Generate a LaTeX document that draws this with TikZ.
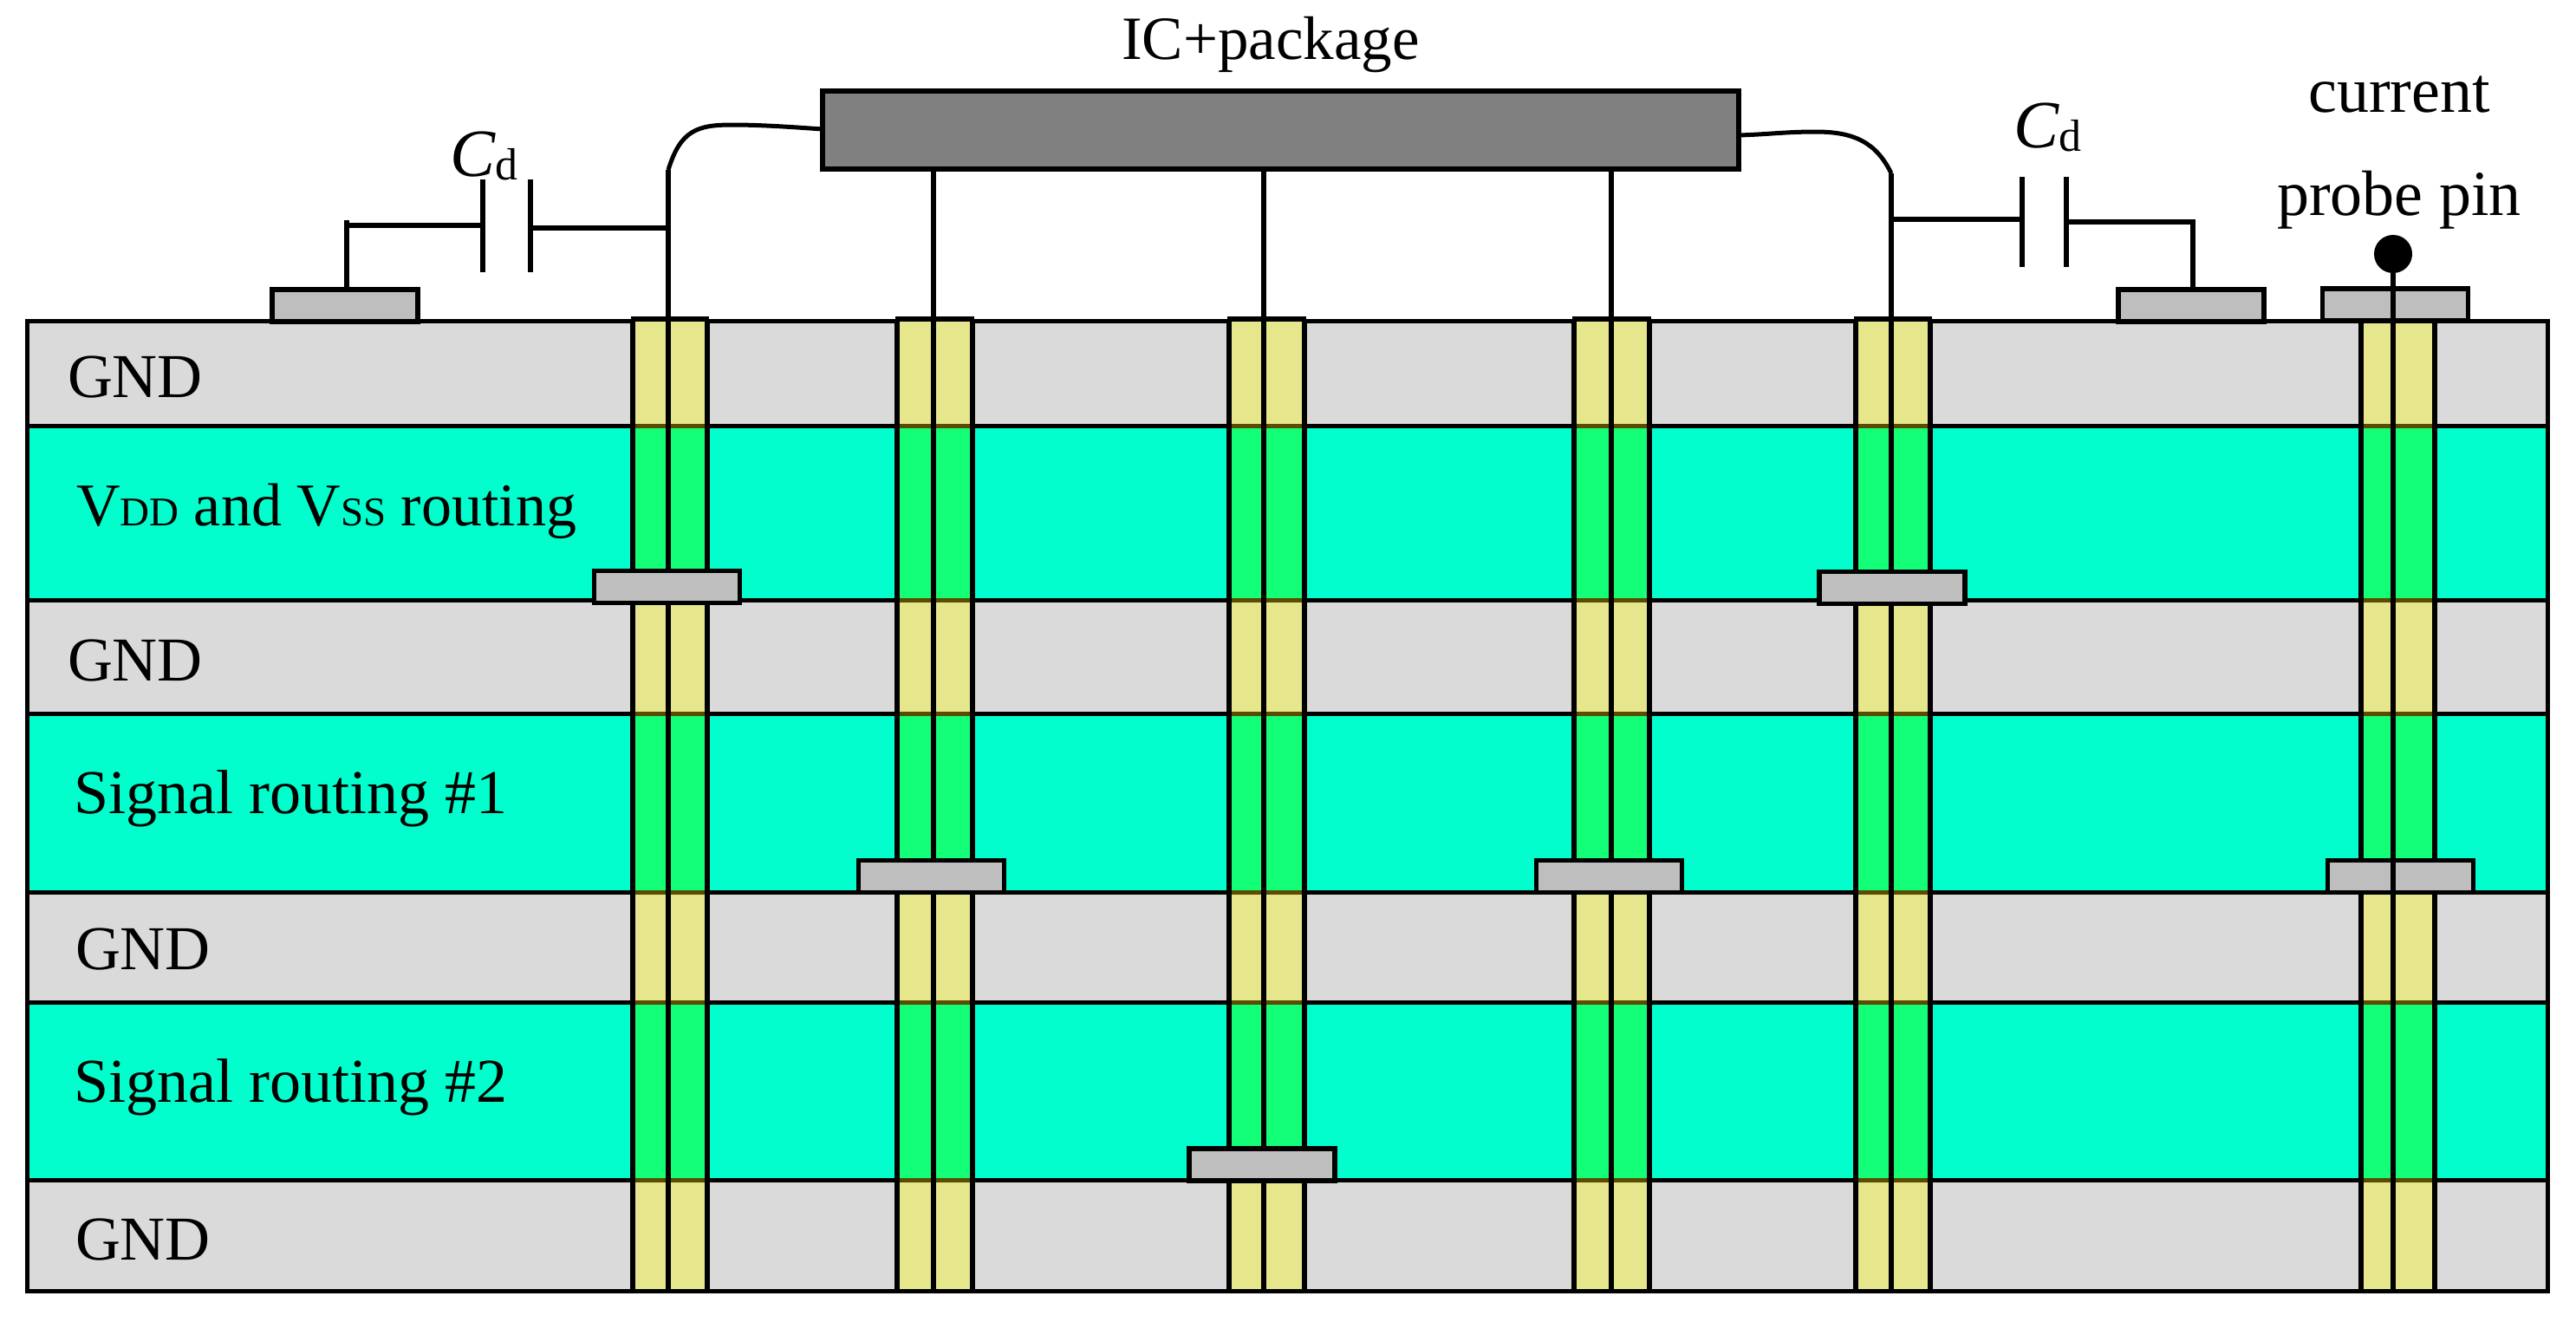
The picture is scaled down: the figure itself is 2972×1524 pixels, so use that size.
\documentclass[tikz,border=0pt]{standalone}
\usepackage{fontspec}
\setmainfont{Liberation Serif}
\definecolor{laygray}{HTML}{DADADA}
\definecolor{layteal}{HTML}{00FFCC}
\definecolor{viayel}{HTML}{E6E68C}
\definecolor{viagrn}{HTML}{14FF78}
\definecolor{padgray}{HTML}{BEBEBE}
\definecolor{icgray}{HTML}{808080}
\definecolor{olive}{HTML}{5A4C00}
\tikzset{
  x=1pt,y=-1pt,
  wire/.style={line width=6pt,black},
  layerbox/.style={draw=black,line width=5pt,minimum width=2908pt,inner sep=0pt,outer sep=0pt,anchor=north west},
  gndlayer/.style={layerbox,fill=laygray},
  routelayer/.style={layerbox,fill=layteal},
  padbox/.style={draw=black,line width=5.5pt,fill=padgray,minimum width=168pt,minimum height=37pt,inner sep=0pt,outer sep=0pt},
  lab/.style={anchor=base west,inner sep=0pt,outer sep=0pt,font=\fontsize{72}{84}\selectfont},
  labc/.style={anchor=base,inner sep=0pt,outer sep=0pt,font=\fontsize{71}{84}\selectfont},
  labp/.style={anchor=base,inner sep=0pt,outer sep=0pt,font=\fontsize{74}{84}\selectfont},
  capc/.style={anchor=base west,inner sep=0pt,outer sep=0pt,font=\fontsize{78}{90}\selectfont\itshape},
  capd/.style={anchor=base west,inner sep=0pt,outer sep=0pt,font=\fontsize{52}{60}\selectfont},
}
\newcommand{\viastack}[3]{%
  \fill[viayel] (#1,368) rectangle (#3,1489);
  \fill[viagrn] (#1,491) rectangle (#3,692);
  \fill[viagrn] (#1,823) rectangle (#3,1029);
  \fill[viagrn] (#1,1156) rectangle (#3,1361);
  \foreach \yy in {491,692,823,1029,1156,1361}{\draw[olive,line width=5pt] (#1,\yy) -- (#3,\yy);}
  \draw[black,line width=5.5pt] (#1,368) -- (#1,1491) (#3,368) -- (#3,1491);
  \draw[black,line width=6pt] (#1-2,368) -- (#3+2,368);
  \draw[black,line width=5pt] (#1-2,1489) -- (#3+2,1489);
}
\newcommand{\smc}[1]{{\fontsize{47}{56}\selectfont #1}}
\begin{document}
\begin{tikzpicture}
\useasboundingbox (0,0) rectangle (2972,1524);
\fill[white] (0,0) rectangle (2972,1524);
% layers
\node[gndlayer,minimum height=121pt] (l1) at (31,370) {};
\node[routelayer,minimum height=201pt] (l2) at (31,491) {};
\node[gndlayer,minimum height=131pt] (l3) at (31,692) {};
\node[routelayer,minimum height=206pt] (l4) at (31,823) {};
\node[gndlayer,minimum height=127pt] (l5) at (31,1029) {};
\node[routelayer,minimum height=205pt] (l6) at (31,1156) {};
\node[gndlayer,minimum height=128pt] (l7) at (31,1361) {};
% vias
\viastack{730}{770}{816}
\viastack{1035}{1077}{1122}
\viastack{1418}{1458}{1505}
\viastack{1816}{1859}{1903}
\viastack{2141}{2182}{2227}
\viastack{2724}{2761}{2809}
% IC and anchors
\node[draw=black,line width=6pt,fill=icgray,minimum width=1057pt,minimum height=90pt,inner sep=0pt,outer sep=0pt] (ic) at (1477.5,150) {};
\coordinate (icL) at (949,149);
\coordinate (icR) at (2006,156);
\coordinate (v1a) at (771,196);
\coordinate (v1b) at (771,1489);
\coordinate (v2a) at (1077,195);
\coordinate (v2b) at (1077,1489);
\coordinate (v3a) at (1458,195);
\coordinate (v3b) at (1458,1489);
\coordinate (v4a) at (1859,195);
\coordinate (v4b) at (1859,1489);
\coordinate (v5a) at (2182,200);
\coordinate (v5b) at (2182,1489);
\coordinate (v6b) at (2761,1489);
% wires
\draw[wire] (v1a) -- (v1b);
\draw[wire] (v2a) -- (v2b);
\draw[wire] (v3a) -- (v3b);
\draw[wire] (v4a) -- (v4b);
\draw[wire] (v5a) -- (v5b);
\draw[line width=5pt] (v1a) .. controls (785,150) and (805,144) .. (845,144) .. controls (880,144) and (920,147) .. (icL);
\draw[line width=5pt] (icR) .. controls (2040,155) and (2060,152) .. (2095,152) .. controls (2140,152) and (2165,165) .. (v5a);
% buried pads
\node[padbox] (p1) at (769.5,677) {};
\node[padbox] (p5) at (2183,678) {};
\node[padbox] (p2) at (1074.5,1011) {};
\node[padbox] (p4) at (1856.5,1011) {};
\node[padbox] (p6) at (2769.5,1011) {};
\node[padbox] (p3) at (1456,1343.5) {};
% surface pads
\node[padbox] (t1) at (398,352.5) {};
\node[padbox] (t2) at (2528,352.5) {};
\node[padbox] (t3) at (2763.5,351.5) {};
% probe
\node[circle,fill=black,minimum size=44pt,inner sep=0pt,outer sep=0pt] (dot) at (2761,293) {};
\draw[wire] (dot) -- (v6b);
% capacitors
\coordinate (c1a) at (557,207);
\coordinate (c1b) at (557,314);
\coordinate (c1c) at (612,207);
\coordinate (c1d) at (612,314);
\draw[wire] (c1a) -- (c1b);
\draw[wire] (c1c) -- (c1d);
\coordinate (c1l) at (557,260);
\coordinate (c1k) at (400,260);
\coordinate (c1r) at (612,263);
\coordinate (c1j) at (771,263);
\draw[wire] (400,254) -- (t1.north -| c1k);
\draw[wire] (c1k) -- (c1l);
\draw[wire] (c1r) -- (c1j);
\coordinate (c2a) at (2333,204);
\coordinate (c2b) at (2333,308);
\coordinate (c2c) at (2384,204);
\coordinate (c2d) at (2384,308);
\draw[wire] (c2a) -- (c2b);
\draw[wire] (c2c) -- (c2d);
\coordinate (c2l) at (2182,253);
\coordinate (c2m) at (2333,253);
\coordinate (c2n) at (2384,256);
\coordinate (c2k) at (2530,256);
\draw[wire] (c2l) -- (c2m);
\draw[wire] (c2n) -- (c2k) -- (t2.north -| c2k);
% labels
\node[labc] (tic) at (1466,68) {IC+package};
\node[labp] (tcur) at (2768,129) {current};
\node[labp] (tprb) at (2768,248) {probe pin};
\node[capc] (cd1) at (519,203) {C};
\node[capd] (cd1s) at (571,207) {d};
\node[capc] (cd2) at (2323,170) {C};
\node[capd] (cd2s) at (2375,174) {d};
\node[lab] (g1) at (78,458) {GND};
\node[lab] (g2) at (78,785) {GND};
\node[lab] (g3) at (87,1118) {GND};
\node[lab] (g4) at (87,1453) {GND};
\node[lab,font=\fontsize{70}{84}\selectfont] (tv) at (88,606) {V\smc{DD} and V\smc{SS} routing};
\node[lab] (ts1) at (85,938) {Signal routing \#1};
\node[lab] (ts2) at (85,1271) {Signal routing \#2};
\end{tikzpicture}
\end{document}
